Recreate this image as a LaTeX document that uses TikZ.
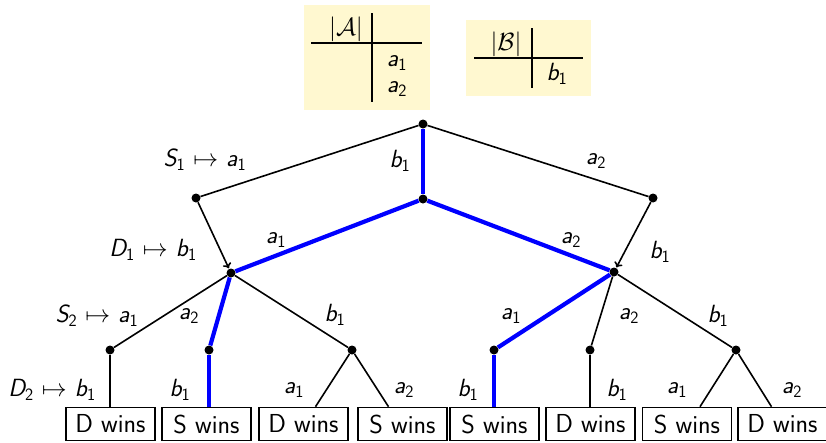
\documentclass[tikz,border=0pt]{standalone}
\usepackage{amsmath}
\usetikzlibrary{arrows.meta}
\DeclareMathAlphabet{\mathsfit}{OT1}{cmss}{m}{sl}
\newcommand\sv[2]{$\mathsfit{#1}_{\mathsf{#2}}$}
\definecolor{paleyellow}{RGB}{255,248,208}
\begin{document}
\begin{tikzpicture}[x=1pt,y=-1pt,
  every node/.style={font=\fontsize{26}{30}\selectfont\sffamily},
  dot/.style={circle,fill=black,inner sep=0pt,minimum size=9pt},
  leaf/.style={draw,line width=1.6pt,minimum width=89pt,minimum height=33pt,inner sep=0pt},
  edge/.style={line width=1.6pt},
  arr/.style={line width=1.6pt,-{To[length=5pt,width=9pt]},shorten >=0.5pt},
  path/.style={line width=4.2pt,blue},
  lab/.style={inner sep=0pt},
  tbl/.style={fill=paleyellow,inner sep=0pt},
  tline/.style={line width=2.4pt}]
\useasboundingbox (0,0) rectangle (826,442);
% tables
\node[tbl,minimum width=126pt,minimum height=105pt] (ta) at (367,57.5) {};
\draw[tline] (372,13) -- (372,102);
\draw[tline] (311,43) -- (422,43);
\node[lab] (tA) at (346,29) {$|\mathcal{A}|$};
\node[lab] (ta1) at (397,63) {\sv{a}{1}};
\node[lab] (ta2) at (397,89) {\sv{a}{2}};
\node[tbl,minimum width=125pt,minimum height=76pt] (tb) at (528.5,58) {};
\draw[tline] (532,28) -- (532,88);
\draw[tline] (474,58) -- (583,58);
\node[lab] (tB) at (506,44) {$|\mathcal{B}|$};
\node[lab] (tb1) at (557,74) {\sv{b}{1}};
% tree nodes
\node[dot] (r) at (423,124) {};
\node[dot] (l1) at (196,198) {};
\node[dot] (m) at (423,199) {};
\node[dot] (r1) at (653,198) {};
\node[dot] (x) at (231,273) {};
\node[dot] (y) at (614,272) {};
\node[dot] (x1) at (110,350) {};
\node[dot] (x2) at (209,350) {};
\node[dot] (x3) at (352,350) {};
\node[dot] (y1) at (494,350) {};
\node[dot] (y2) at (590,350) {};
\node[dot] (y3) at (736,350) {};
% leaves
\node[leaf] (b1) at (110.5,424) {D wins};
\node[leaf] (b2) at (206.5,424) {S wins};
\node[leaf] (b3) at (303.5,424) {D wins};
\node[leaf] (b4) at (402.5,424) {S wins};
\node[leaf] (b5) at (494.5,424) {S wins};
\node[leaf] (b6) at (590.5,424) {D wins};
\node[leaf] (b7) at (687,424) {S wins};
\node[leaf] (b8) at (782.5,424) {D wins};
% edges
\draw[edge] (r) -- (l1);
\draw[edge] (r) -- (r1);
\draw[path] (r) -- (m);
\draw[path] (m) -- (x);
\draw[path] (m) -- (y);
\draw[arr] (l1) -- (x);
\draw[arr] (r1) -- (y);
\draw[edge] (x) -- (x1);
\draw[path] (x) -- (x2);
\draw[edge] (x) -- (x3);
\draw[path] (y) -- (y1);
\draw[edge] (y) -- (y2);
\draw[edge] (y) -- (y3);
\draw[edge] (x1) -- (b1.north -| x1);
\draw[path] (x2) -- (b2.north -| x2);
\draw[edge] (x3) -- ([xshift=12pt]b3.north);
\draw[edge] (x3) -- ([xshift=-14pt]b4.north);
\draw[path] (y1) -- (b5.north -| y1);
\draw[edge] (y2) -- (b6.north -| y2);
\draw[edge] (y3) -- ([xshift=13pt]b7.north);
\draw[edge] (y3) -- ([xshift=-11pt]b8.north);
% labels
\node[lab] at (205,160) {\sv{S}{1} $\mapsto$ \sv{a}{1}};
\node[lab] at (400,161) {\sv{b}{1}};
\node[lab] at (596,161) {\sv{a}{2}};
\node[lab] at (153,250) {\sv{D}{1} $\mapsto$ \sv{b}{1}};
\node[lab] at (276,240) {\sv{a}{1}};
\node[lab] at (571,240) {\sv{a}{2}};
\node[lab] at (660,252) {\sv{b}{1}};
\node[lab] at (97,316) {\sv{S}{2} $\mapsto$ \sv{a}{1}};
\node[lab] at (189,316) {\sv{a}{2}};
\node[lab] at (335,315) {\sv{b}{1}};
\node[lab] at (511,316) {\sv{a}{1}};
\node[lab] at (629,316) {\sv{a}{2}};
\node[lab] at (718,316) {\sv{b}{1}};
\node[lab] at (52,390) {\sv{D}{2} $\mapsto$ \sv{b}{1}};
\node[lab] at (180,390) {\sv{b}{1}};
\node[lab] at (294,390) {\sv{a}{1}};
\node[lab] at (404,390) {\sv{a}{2}};
\node[lab] at (468,390) {\sv{b}{1}};
\node[lab] at (617,390) {\sv{b}{1}};
\node[lab] at (677,390) {\sv{a}{1}};
\node[lab] at (792,390) {\sv{a}{2}};
\end{tikzpicture}
\end{document}
